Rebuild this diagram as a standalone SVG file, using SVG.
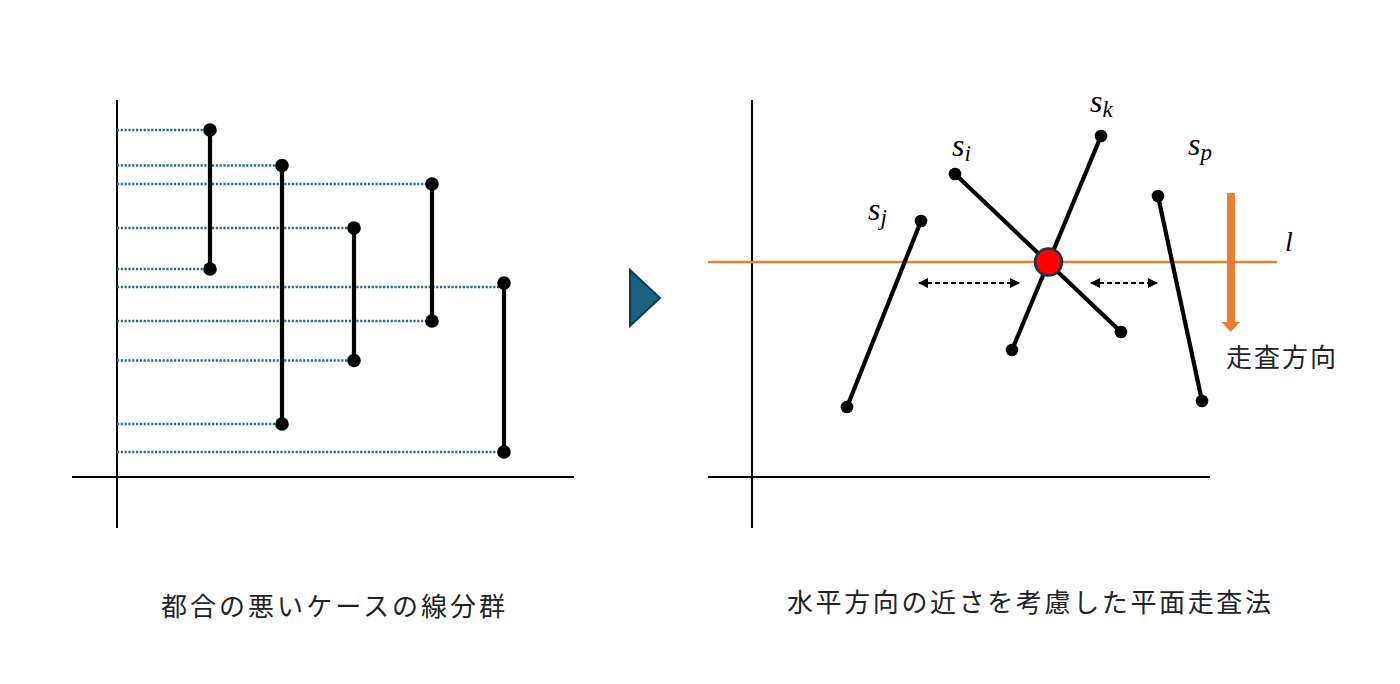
<svg xmlns="http://www.w3.org/2000/svg" width="1400" height="684" viewBox="0 0 1400 684">
<style>
.axis{stroke:#000;stroke-width:2;fill:none}
.dot{stroke:#1F6B8E;stroke-width:2.6;stroke-dasharray:2.2 1.6;fill:none}
.seg{stroke:#000;stroke-width:4.2;fill:none}
.pt{fill:#000}
.cap{font-family:"Noto Sans CJK JP","Noto Sans",sans-serif;font-size:26px;fill:#222}
.math{font-family:"Liberation Serif",serif;font-style:italic;fill:#000}
.dash{stroke:#000;stroke-width:2;stroke-dasharray:5 3;fill:none}
</style>
<defs>
<marker id="ah" viewBox="0 0 10 10" refX="9" refY="5" markerWidth="5" markerHeight="5" orient="auto-start-reverse" markerUnits="strokeWidth">
<path d="M0,0 L10,5 L0,10 Z" fill="#000"/>
</marker>
</defs>
<rect width="1400" height="684" fill="#fff"/>

<!-- Left panel -->
<g id="left-axes">
<line class="axis" x1="117" y1="100" x2="117" y2="528"/>
<line class="axis" x1="72" y1="477" x2="574" y2="477"/>
</g>
<g id="projections">
<line class="dot" x1="117" y1="130" x2="210" y2="130"/>
<line class="dot" x1="117" y1="165.5" x2="282" y2="165.5"/>
<line class="dot" x1="117" y1="184" x2="432" y2="184"/>
<line class="dot" x1="117" y1="228" x2="354" y2="228"/>
<line class="dot" x1="117" y1="269" x2="210" y2="269"/>
<line class="dot" x1="117" y1="287" x2="504" y2="287"/>
<line class="dot" x1="117" y1="321" x2="432" y2="321"/>
<line class="dot" x1="117" y1="360.5" x2="354" y2="360.5"/>
<line class="dot" x1="117" y1="424" x2="282" y2="424"/>
<line class="dot" x1="117" y1="452" x2="504" y2="452"/>
</g>
<g id="seg-l1"><line class="seg" x1="210" y1="130" x2="210" y2="269"/><circle class="pt" cx="210" cy="130" r="6.8"/><circle class="pt" cx="210" cy="269" r="6.8"/></g>
<g id="seg-l2"><line class="seg" x1="282" y1="165.5" x2="282" y2="424"/><circle class="pt" cx="282" cy="165.5" r="6.8"/><circle class="pt" cx="282" cy="424" r="6.8"/></g>
<g id="seg-l3"><line class="seg" x1="432" y1="184" x2="432" y2="321"/><circle class="pt" cx="432" cy="184" r="6.8"/><circle class="pt" cx="432" cy="321" r="6.8"/></g>
<g id="seg-l4"><line class="seg" x1="354" y1="228" x2="354" y2="360.5"/><circle class="pt" cx="354" cy="228" r="6.8"/><circle class="pt" cx="354" cy="360.5" r="6.8"/></g>
<g id="seg-l5"><line class="seg" x1="504" y1="283" x2="504" y2="452"/><circle class="pt" cx="504" cy="283" r="6.8"/><circle class="pt" cx="504" cy="452" r="6.8"/></g>
<g id="caption-left"><text class="cap" x="161" y="616" textLength="344" lengthAdjust="spacing">都合の悪いケースの線分群</text></g>

<!-- Middle triangle -->
<g id="triangle"><polygon points="630,270 660,298 630,326" fill="#1A6182" stroke="#0E3A50" stroke-width="2" stroke-linejoin="miter"/></g>

<!-- Right panel -->
<g id="right-axes">
<line class="axis" x1="752" y1="100" x2="752" y2="528"/>
<line class="axis" x1="708" y1="477" x2="1210" y2="477"/>
</g>
<g id="sweep-line"><line x1="708" y1="262" x2="1277" y2="262" stroke="#ED7D31" stroke-width="2.5"/></g>
<g id="seg-j"><line class="seg" x1="921" y1="221" x2="847" y2="407"/><circle class="pt" cx="921" cy="221" r="6.3"/><circle class="pt" cx="847" cy="407" r="6.3"/></g>
<g id="seg-i"><line class="seg" x1="955" y1="174" x2="1121" y2="332"/><circle class="pt" cx="955" cy="174" r="6.3"/><circle class="pt" cx="1121" cy="332" r="6.3"/></g>
<g id="seg-k"><line class="seg" x1="1101" y1="136" x2="1012" y2="350"/><circle class="pt" cx="1101" cy="136" r="6.3"/><circle class="pt" cx="1012" cy="350" r="6.3"/></g>
<g id="seg-p"><line class="seg" x1="1158" y1="196" x2="1202" y2="401"/><circle class="pt" cx="1158" cy="196" r="6.3"/><circle class="pt" cx="1202" cy="401" r="6.3"/></g>
<g id="intersection"><circle cx="1048.5" cy="262" r="13.5" fill="#FF0000" stroke="#12384A" stroke-width="2.5"/></g>
<g id="connectors">
<line class="dash" x1="919" y1="283" x2="1019" y2="283" marker-start="url(#ah)" marker-end="url(#ah)"/>
<line class="dash" x1="1091" y1="283" x2="1157" y2="283" marker-start="url(#ah)" marker-end="url(#ah)"/>
</g>
<g id="scan-arrow">
<line x1="1231" y1="193" x2="1231" y2="323" stroke="#ED7D31" stroke-width="8"/>
<polygon points="1221.5,322 1240,322 1230.8,332" fill="#ED7D31"/>
</g>
<g id="labels">
<text class="math" x="1090" y="112" font-size="32">s<tspan font-size="23" dy="5">k</tspan></text>
<text class="math" x="952" y="156" font-size="32">s<tspan font-size="23" dy="5">i</tspan></text>
<text class="math" x="868" y="220" font-size="32">s<tspan font-size="23" dy="5">j</tspan></text>
<text class="math" x="1188" y="155" font-size="32">s<tspan font-size="23" dy="5">p</tspan></text>
<text class="math" x="1285" y="251" font-size="28">l</text>
<text class="cap" x="1226" y="367" textLength="110" lengthAdjust="spacing">走査方向</text>
</g>
<g id="caption-right"><text class="cap" x="787" y="612" textLength="484" lengthAdjust="spacing">水平方向の近さを考慮した平面走査法</text></g>
</svg>
